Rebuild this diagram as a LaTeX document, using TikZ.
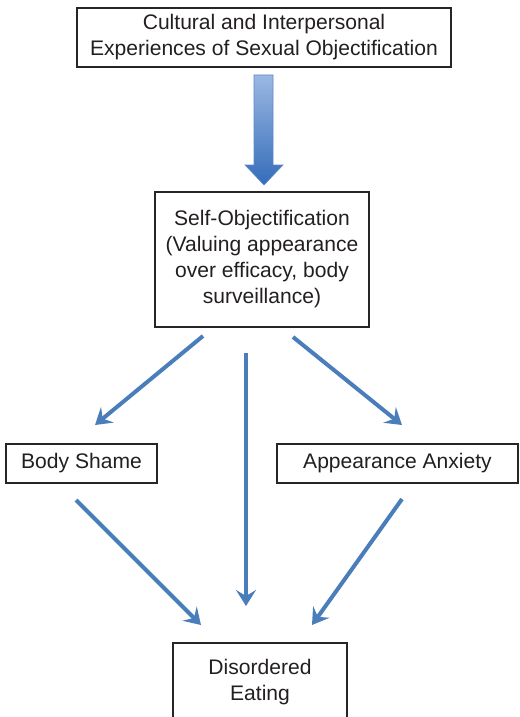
\documentclass[tikz,border=0pt]{standalone}
\usepackage{fontspec}
\setmainfont{Liberation Sans}
\usetikzlibrary{arrows.meta}
\definecolor{arrowblue}{RGB}{74,126,187}
\definecolor{lightblue}{RGB}{155,184,226}
\definecolor{darkblue}{RGB}{52,108,186}
\definecolor{textgray}{RGB}{35,31,32}
\begin{document}
\begin{tikzpicture}[x=0.75pt,y=-0.75pt,
  box/.style={draw=black!85,line width=0.8pt,align=center,inner sep=0pt,text=textgray,
    font=\fontsize{15.8}{19.5}\selectfont},
  link/.style={arrowblue,line width=3pt,-{Stealth[length=12pt,width=15pt,inset=4.5pt]}}]
  \useasboundingbox (0,0) rectangle (520,717);
  % boxes
  \node[box,minimum width=280.5pt,minimum height=44.25pt] (cult) at (264,37.5)
    {Cultural and Interpersonal\\Experiences of Sexual Objectification};
  \node[box,minimum width=160.5pt,minimum height=101.25pt] (self) at (262,259.5)
    {Self-Objectification\\(Valuing appearance\\over efficacy, body\\surveillance)};
  \node[box,minimum width=113.25pt,minimum height=29.25pt] (shame) at (81.5,463.5) {Body Shame};
  \node[box,minimum width=180.75pt,minimum height=29.25pt] (anx) at (397.5,463.5) {Appearance Anxiety};
  \node[box,minimum width=130.5pt,minimum height=58.5pt] (eat) at (260,682) {Disordered\\Eating};
  % big arrow
  \shade[top color=lightblue,bottom color=darkblue,draw=darkblue!80,line width=0.4pt]
    (254,75) -- (273,75) -- (273,165) -- (283,165) -- (264,185) -- (245,165) -- (254,165) -- cycle;
  % arrows
  \coordinate (s1) at (203,336);  \coordinate (e1) at (95,425);
  \coordinate (s2) at (246,353);  \coordinate (e2) at (246,606);
  \coordinate (s3) at (293,337);  \coordinate (e3) at (402,425);
  \coordinate (s4) at (76,500);   \coordinate (e4) at (201,625);
  \coordinate (s5) at (402,499);  \coordinate (e5) at (312,625);
  \draw[link] (s1) -- (e1);
  \draw[link] (s2) -- (e2);
  \draw[link] (s3) -- (e3);
  \draw[link] (s4) -- (e4);
  \draw[link] (s5) -- (e5);
\end{tikzpicture}
\end{document}
